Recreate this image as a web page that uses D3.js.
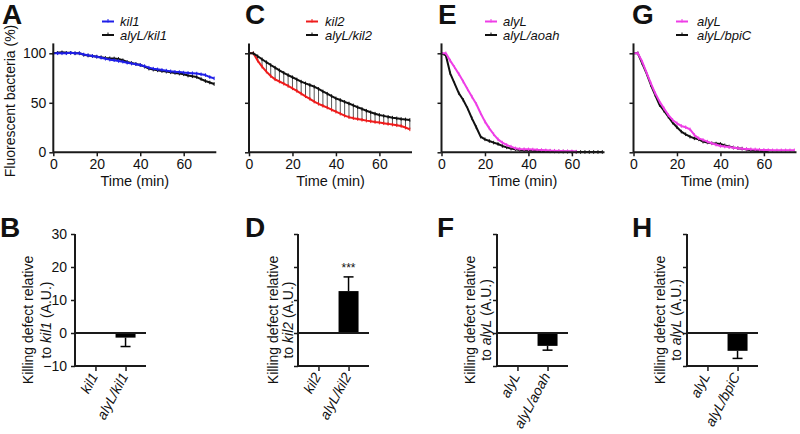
<!DOCTYPE html>
<html><head><meta charset="utf-8">
<script src="https://cdn.jsdelivr.net/npm/d3@7"></script>
<style>
body{margin:0;background:#fff}
svg{display:block}
text{font-family:"Liberation Sans",Arial,Helvetica,sans-serif;fill:#111}
</style>
</head><body>
<svg id="chart" width="800" height="434"></svg>
<script>
// ---------- DATA ----------
const time = [0,2,4,6,8,10,12,14,16,18,20,22,24,26,28,30,32,34,36,38,40,42,44,46,48,50,52,54,56,58,60,62,64,66,68,70,72,74];
const xTicks = [0,20,40,60];
const yTicksTop = [0,50,100];

// Panel A
const kil1      = [100,100,100,100,100.5,100,100,98.8,98,97.3,96.6,95.6,94.5,93.6,93,92.3,91.5,90.5,89.6,89,88.2,87,85.5,84.5,83.8,83.2,82.5,81.8,81.3,81,80.5,80.2,79.9,79.5,78.8,78,76,74.7];
const alyL_kil1 = [100,100.5,101,100.5,100.5,100,100,98.5,97.8,97.2,96.6,96,95.3,95,94.8,94.3,93,91.2,90.2,89.2,88.2,86.5,84.5,83.5,82.8,82,81.5,80.8,80.2,79.5,78.8,77.5,76.8,76,74,72,70.5,69];
// Panel C
const kil2      = [100,100,92.6,86.5,81.5,77,73.7,71.5,69.3,67,64.6,62,59.2,56.6,54,51.2,49,47,45.2,43,41,39,37,35.5,34.5,33.7,32.8,32,31.3,30.6,30,29.3,28.7,28,27.3,26.6,25,23.2];
const alyL_kil2 = [100,100,97,94,91,88.2,85.5,82.8,80.3,78,75.8,73.6,71.4,69.6,68,66.3,64,61.5,59.2,56.8,54.5,52.8,51,49.3,47.4,45.5,43.8,42,40.4,39,37.7,36.8,35.8,35,34.3,33.7,33.2,32.7];
// Panel E
const alyL_E    = [100,100,92.6,85.9,79,71.4,63.6,56.2,48.8,39.4,31,24.2,18.2,13.1,9.8,7.4,5.7,4,3.4,3.2,3,2.8,2.5,2.3,2,1.7,1.6,1.4,1.2,1.1,1,0.7,null,null,null,null,null,null];
const alyL_aoah = [100,98,79.8,69.7,59.6,52.9,44.4,34.3,25.3,15.8,13.1,11.4,9.8,8.4,6.4,5,3.7,3,2.4,2,1.7,1.5,1.3,1.2,1.1,1,0.9,0.8,0.7,0.6,0.5,0.4,0.3,0.3,0.3,0.3,0.3,0.3];
// Panel G
const alyL_G    = [100,100,91.6,80.5,69.7,59.6,51.2,44.4,37.7,32.7,29.3,26.6,25.3,23.2,17.5,14.1,12.5,10.8,9.1,7.7,6.4,5.8,5.3,4.7,4.2,3.7,3.4,3.1,2.9,2.6,2.4,2.2,2,2,2,2,2,2];
const alyL_bpiC = [100,100,89.9,79.8,68,57.9,47.8,42,36,30,25.3,20.9,18.2,15.8,14.1,13.1,10.8,10,9.1,8.8,8.4,7,5.8,4.8,4.2,3.7,2.8,2,1.5,1.2,1,1,null,null,null,null,null,null];

// Bottom bar panels
const yTicksBottom = [-10,0,10,20,30];
const catsB = ["kil1","alyL/kil1"];   const barB = [0,-1.4]; const errB = [0,2.7];
const catsD = ["kil2","alyL/kil2"];   const barD = [0,12.7]; const errD = [0,4.3];
const catsF = ["alyL","alyL/aoah"];   const barF = [0,-3.9]; const errF = [0,1.3];
const catsH = ["alyL","alyL/bpiC"];   const barH = [0,-5.4]; const errH = [0,2.3];

// ---------- DRAW ----------
const svg = d3.select("#chart");
const AX = "#1a1a1a";
const C_BLUE = "#1f1fe8", C_RED = "#ee1c1c", C_MAG = "#ee3ee6", C_BLACK = "#111";
const FONT = "'Liberation Sans',Arial,sans-serif";

const topPanels = [
  {letter:"A", x0:53.3, lx:2,   leg:[102,120], labels:true,
   series:[{name:"kil1",v:kil1,c:C_BLUE},{name:"alyL/kil1",v:alyL_kil1,c:C_BLACK}]},
  {letter:"C", x0:249,  lx:245, leg:[306,325], err:true,
   series:[{name:"kil2",v:kil2,c:C_RED},{name:"alyL/kil2",v:alyL_kil2,c:C_BLACK}]},
  {letter:"E", x0:441.5,lx:438, leg:[485,503],
   series:[{name:"alyL",v:alyL_E,c:C_MAG},{name:"alyL/aoah",v:alyL_aoah,c:C_BLACK}]},
  {letter:"G", x0:633.5,lx:632, leg:[676,697],
   series:[{name:"alyL",v:alyL_G,c:C_MAG},{name:"alyL/bpiC",v:alyL_bpiC,c:C_BLACK}]}
];

const yTop = d3.scaleLinear().domain([0,110]).range([152.3,43.4]);

topPanels.forEach(p => {
  const x = d3.scaleLinear().domain([0,75]).range([p.x0, p.x0+163]);
  const g = svg.append("g");

  if (p.err) {
    const lo = p.series[0].v, hi = p.series[1].v;
    g.append("g").selectAll("line").data(time.slice(1)).join("line")
      .attr("x1", (t)=>x(t)).attr("x2",(t)=>x(t))
      .attr("y1", (t,i)=>yTop(hi[i+1])).attr("y2",(t,i)=>yTop(lo[i+1]))
      .attr("stroke","#444").attr("stroke-width",0.9);
  }

  const order = [p.series[1], p.series[0]];
  if (p.letter==="C") order.reverse();
  order.forEach(s => {
    const line = d3.line().defined(d=>d[1]!=null)
      .x(d=>x(d[0])).y(d=>yTop(d[1]));
    g.append("path").datum(time.map((t,i)=>[t,s.v[i]]))
      .attr("d", line).attr("fill","none").attr("stroke", s.c)
      .attr("stroke-width",2).attr("stroke-linejoin","round");
    g.append("g").selectAll("line").data(time.map((t,i)=>[t,s.v[i]]).filter(d=>d[1]!=null)).join("line")
      .attr("x1",d=>x(d[0])).attr("x2",d=>x(d[0]))
      .attr("y1",d=>yTop(d[1])-1.8).attr("y2",d=>yTop(d[1])+1.8)
      .attr("stroke",s.c).attr("stroke-width",1);
  });

  const ya = d3.axisLeft(yTop).tickValues(yTicksTop).tickSize(4).tickPadding(3)
    .tickFormat(p.labels ? d3.format("d") : "");
  const yg = g.append("g").attr("transform",`translate(${p.x0},0)`).call(ya);
  const xa = d3.axisBottom(x).tickValues(xTicks).tickSize(4).tickPadding(3);
  const xg = g.append("g").attr("transform",`translate(0,${yTop(0)})`).call(xa);
  [yg,xg].forEach(a=>{
    a.select(".domain").attr("stroke",AX).attr("stroke-width",2);
    a.selectAll(".tick line").attr("stroke",AX).attr("stroke-width",1.5);
    a.selectAll(".tick text").attr("font-size",14).attr("fill","#111").style("font-family",FONT);
  });
  yg.select(".domain").attr("d",`M0,${yTop(110)}V${yTop(0)}`);
  xg.select(".domain").attr("d",`M${p.x0},0H${p.x0+163}`);

  g.append("text").attr("x", p.x0+81.5).attr("y",186).attr("text-anchor","middle")
    .attr("font-size",14.5).text("Time (min)");

  p.series.forEach((s,i)=>{
    const ly = 21.5 + i*13.5;
    g.append("line").attr("x1",p.leg[0]).attr("x2",p.leg[0]+12).attr("y1",ly).attr("y2",ly)
      .attr("stroke",s.c).attr("stroke-width",2);
    g.append("line").attr("x1",p.leg[0]+6).attr("x2",p.leg[0]+6).attr("y1",ly-2.5).attr("y2",ly+1)
      .attr("stroke",s.c).attr("stroke-width",1);
    g.append("text").attr("x",p.leg[1]).attr("y",ly+4.5).attr("font-size",13)
      .attr("font-style","italic").text(s.name);
  });

  g.append("text").attr("x",p.lx).attr("y",24).attr("font-size",28).attr("font-weight","bold").text(p.letter);
});

svg.append("text").attr("transform","translate(15,101) rotate(-90)").attr("text-anchor","middle")
  .attr("font-size",14).text("Fluorescent bacteria (%)");

// ---------- bottom panels ----------
const yBot = d3.scaleLinear().domain([-10,30]).range([366,234]);
const botPanels = [
  {letter:"B", x0:75,  lx:0,   cats:catsB, v:barB, e:errB, ref:"kil1", labels:true, l1:28, l2:46},
  {letter:"D", x0:298, lx:245, cats:catsD, v:barD, e:errD, ref:"kil2", star:true, l1:273, l2:288},
  {letter:"F", x0:497, lx:437, cats:catsF, v:barF, e:errF, ref:"alyL", l1:470, l2:486},
  {letter:"H", x0:687, lx:632, cats:catsH, v:barH, e:errH, ref:"alyL", l1:660, l2:676}
];

botPanels.forEach(p=>{
  const g = svg.append("g");
  const x = d3.scalePoint().domain(p.cats).range([p.x0, p.x0+71]).padding(0.68);
  const bw = 20;
  p.cats.forEach((c,i)=>{
    const v = p.v[i];
    if (v===0) return;
    g.append("rect").attr("x",x(c)-bw/2).attr("width",bw)
      .attr("y",Math.min(yBot(v),yBot(0))).attr("height",Math.abs(yBot(v)-yBot(0)))
      .attr("fill","#000");
    const ve = v + Math.sign(v)*p.e[i];
    g.append("line").attr("x1",x(c)).attr("x2",x(c)).attr("y1",yBot(v)).attr("y2",yBot(ve))
      .attr("stroke","#000").attr("stroke-width",1.5);
    g.append("line").attr("x1",x(c)-5).attr("x2",x(c)+5).attr("y1",yBot(ve)).attr("y2",yBot(ve))
      .attr("stroke","#000").attr("stroke-width",1.5);
    if (p.star) g.append("text").attr("x",x(c)).attr("y",yBot(ve)-5).attr("text-anchor","middle")
      .attr("font-size",12).text("***");
  });
  g.append("line").attr("x1",p.x0).attr("x2",p.x0+71).attr("y1",yBot(0)).attr("y2",yBot(0))
    .attr("stroke",AX).attr("stroke-width",2);
  const ya = d3.axisLeft(yBot).tickValues(yTicksBottom).tickSize(4).tickPadding(4)
    .tickFormat(p.labels ? d3.format("d") : "");
  const yg = g.append("g").attr("transform",`translate(${p.x0},0)`).call(ya);
  const xa = d3.axisBottom(x).tickSize(5).tickFormat("");
  const xg = g.append("g").attr("transform",`translate(0,${yBot(-10)})`).call(xa);
  [yg,xg].forEach(a=>{
    a.select(".domain").attr("stroke",AX).attr("stroke-width",2);
    a.selectAll(".tick line").attr("stroke",AX).attr("stroke-width",1.5);
    a.selectAll(".tick text").attr("font-size",14).attr("fill","#111").style("font-family",FONT);
  });
  yg.select(".domain").attr("d",`M0,${yBot(30)}V${yBot(-10)}`);
  xg.select(".domain").attr("d",`M${p.x0},0H${p.x0+71}`);
  p.cats.forEach(c=>{
    g.append("text").attr("transform",`translate(${x(c)+3},${yBot(-10)+10}) rotate(-62)`)
      .attr("text-anchor","end").attr("font-size",14).attr("font-style","italic").text(c);
  });
  g.append("text").attr("transform",`translate(${p.l1+5},320) rotate(-90)`).attr("text-anchor","middle")
    .attr("font-size",14).text("Killing defect relative");
  const t2 = g.append("text").attr("transform",`translate(${p.l2+5},320) rotate(-90)`).attr("text-anchor","middle")
    .attr("font-size",14);
  t2.append("tspan").text("to ");
  t2.append("tspan").attr("font-style","italic").text(p.ref);
  t2.append("tspan").text(" (A.U.)");
  g.append("text").attr("x",p.lx).attr("y",237).attr("font-size",28).attr("font-weight","bold").text(p.letter);
});
</script>
</body></html>
